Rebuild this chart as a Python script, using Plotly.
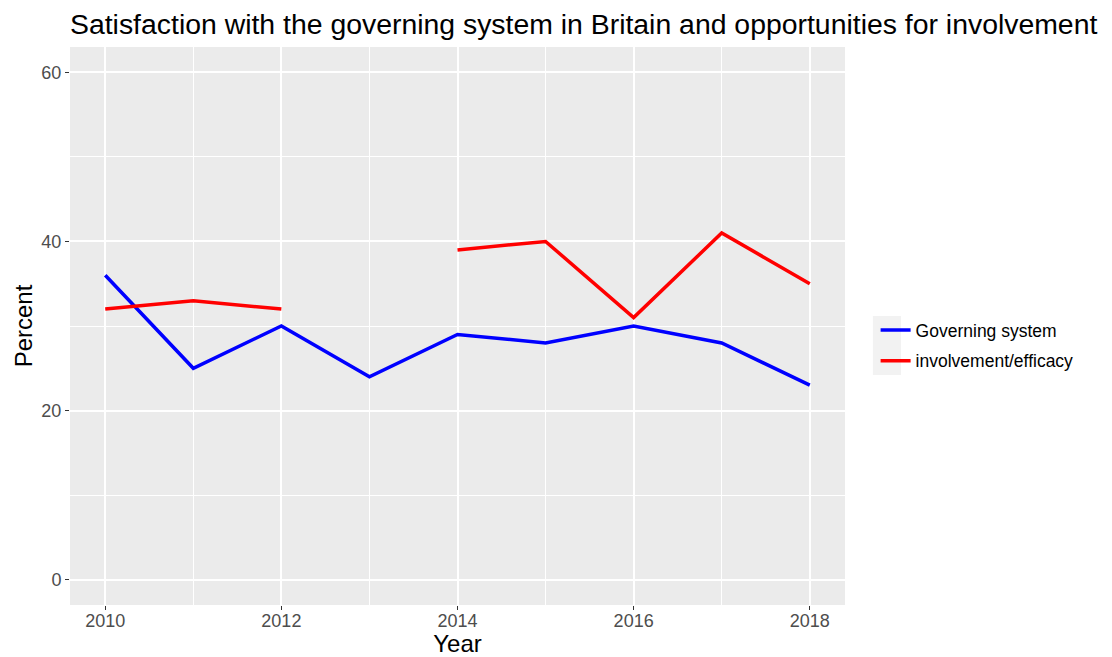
import plotly.graph_objects as go

years = [2010, 2011, 2012, 2013, 2014, 2015, 2016, 2017, 2018]
governing = [36, 25, 30, 24, 29, 28, 30, 28, 23]
involvement = [32, 33, 32, None, 39, 40, 31, 41, 35]
series_names = ["Governing system", "involvement/efficacy"]
x_ticks = [2010, 2012, 2014, 2016, 2018]
y_ticks = [0, 20, 40, 60]

FONT = "Liberation Sans, Arial, Helvetica, sans-serif"
W, H = 1104, 649  # page body has an 8px margin

fig = go.Figure()
fig.add_trace(go.Scatter(x=years, y=governing, mode="lines", name=series_names[0],
                         legendgroup="g1",
                         line=dict(color="#0000FF", width=3.5), connectgaps=False))
fig.add_trace(go.Scatter(x=years, y=involvement, mode="lines", name=series_names[1],
                         legendgroup="g2",
                         line=dict(color="#FF0000", width=3.5), connectgaps=False))

# legend key background (ggplot grey95)
fig.add_shape(type="rect", xref="paper", yref="paper",
              x0=1.036, x1=1.0723, y0=0.412, y1=0.518,
              fillcolor="#F2F2F2", line=dict(width=0), layer="below")

fig.update_layout(
    width=W, height=H,
    margin=dict(l=62, r=267, t=39, b=52, autoexpand=False),
    paper_bgcolor="white", plot_bgcolor="#EBEBEB",
    font=dict(family=FONT, color="black"),
    title=dict(text="Satisfaction with the governing system in Britain and opportunities for involvement",
               x=62/W, xanchor="left", y=1-16/H, yanchor="middle",
               font=dict(size=28.4, color="black", family=FONT)),
    showlegend=True,
    legend=dict(x=1.0395, xanchor="left", y=0.465, yanchor="middle",
                bgcolor="rgba(0,0,0,0)", font=dict(size=17.5, color="black"),
                traceorder="grouped", tracegroupgap=5, itemwidth=30),
    xaxis=dict(range=[2009.6, 2018.4], tickmode="array", tickvals=x_ticks,
               ticktext=[str(v) for v in x_ticks],
               showgrid=True, gridcolor="white", gridwidth=1.5, zeroline=False,
               ticks="outside", ticklen=4, tickcolor="#333333", tickwidth=1,
               tickfont=dict(size=18, color="#4D4D4D"), ticklabelstandoff=-5,
               minor=dict(dtick=1, tick0=2010, showgrid=True, gridcolor="white", gridwidth=0.7, ticks=""),
               title=dict(text="Year", font=dict(size=24, color="black"), standoff=4),
               showline=False),
    yaxis=dict(range=[-3, 63], tickmode="array", tickvals=y_ticks,
               ticktext=[str(v) for v in y_ticks],
               showgrid=True, gridcolor="white", gridwidth=1.5, zeroline=False,
               ticks="outside", ticklen=4, tickcolor="#333333", tickwidth=1,
               tickfont=dict(size=18, color="#4D4D4D"),
               minor=dict(dtick=10, tick0=0, showgrid=True, gridcolor="white", gridwidth=0.7, ticks=""),
               title=dict(text="Percent", font=dict(size=24, color="black"), standoff=1),
               showline=False),
)

fig.write_html("out.html")
